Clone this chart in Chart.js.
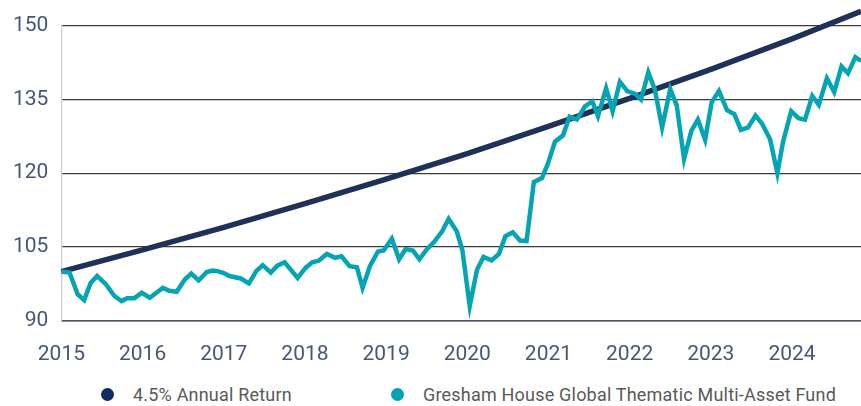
<!DOCTYPE html>
<html>
<head>
<meta charset="utf-8">
<script src="https://cdn.jsdelivr.net/npm/chart.js@4.4.1/dist/chart.umd.min.js"></script>
<style>
    html, body { margin: 0; padding: 0; background: #fff; }
    #wrap { width: 861px; height: 380px; position: relative; }
    #legend { position: relative; width: 861px; height: 26px; font-family: Roboto, sans-serif; font-size: 18px; color: #595959; }
    .item { position: absolute; top: 4px; display: flex; align-items: center; letter-spacing: 0.2px; }
    .dot { width: 13px; height: 13px; border-radius: 50%; margin-right: 19px; }
</style>
</head>
<body>
<div id="wrap"><canvas id="chart"></canvas></div>
<div id="legend"></div>
<script>
// 4.5% annual return, read at each January (plus the right edge)
const trendYears = [2015, 2016, 2017, 2018, 2019, 2020, 2021, 2022, 2023, 2024, 2024.85];
const trendValues = [100, 104.4, 109.0, 113.8, 118.8, 124.0, 129.5, 135.2, 141.1, 147.3, 152.9];

// fund (decimal years)
const fundDates = [
    2015.00, 2015.10, 2015.20, 2015.28, 2015.36, 2015.44, 2015.55, 2015.65, 2015.74, 2015.81,
    2015.90, 2015.99, 2016.09, 2016.17, 2016.25, 2016.33, 2016.42, 2016.52, 2016.60, 2016.69,
    2016.79, 2016.86, 2016.92, 2017.00, 2017.07, 2017.21, 2017.31, 2017.40, 2017.48, 2017.58,
    2017.66, 2017.75, 2017.84, 2017.91, 2018.01, 2018.09, 2018.17, 2018.27, 2018.37, 2018.45,
    2018.55, 2018.64, 2018.71, 2018.80, 2018.90, 2018.97, 2019.07, 2019.16, 2019.24, 2019.33,
    2019.41, 2019.50, 2019.59, 2019.69, 2019.77, 2019.87, 2019.94, 2020.03, 2020.12, 2020.20,
    2020.30, 2020.39, 2020.47, 2020.56, 2020.65, 2020.73, 2020.82, 2020.92, 2020.99, 2021.08,
    2021.18, 2021.26, 2021.35, 2021.45, 2021.54, 2021.61, 2021.71, 2021.79, 2021.88, 2021.97,
    2022.07, 2022.14, 2022.23, 2022.31, 2022.40, 2022.50, 2022.58, 2022.67, 2022.76, 2022.84,
    2022.93, 2023.01, 2023.10, 2023.20, 2023.29, 2023.37, 2023.46, 2023.55, 2023.63, 2023.73,
    2023.82, 2023.89, 2023.99, 2024.08, 2024.16, 2024.25, 2024.33, 2024.43, 2024.52, 2024.61,
    2024.69, 2024.78, 2024.85
];
const fundValues = [
    100.0, 99.8, 95.4, 94.2, 97.7, 99.1, 97.4, 95.1, 94.0, 94.6,
    94.6, 95.7, 94.7, 95.7, 96.7, 96.1, 95.9, 98.4, 99.6, 98.2,
    99.9, 100.2, 100.1, 99.7, 99.1, 98.6, 97.6, 100.1, 101.3, 99.8,
    101.2, 101.9, 100.1, 98.7, 100.8, 101.9, 102.2, 103.6, 102.8, 103.1,
    101.1, 100.9, 96.7, 101.1, 104.1, 104.3, 106.7, 102.5, 104.6, 104.3,
    102.5, 104.5, 106.0, 108.2, 110.7, 108.2, 104.3, 93.0, 100.4, 103.0,
    102.3, 103.6, 107.2, 108.0, 106.3, 106.2, 118.2, 119.0, 121.8, 126.4,
    127.7, 131.5, 130.9, 133.6, 134.6, 131.6, 137.3, 132.6, 138.6, 136.7,
    136.1, 135.0, 140.5, 137.0, 129.3, 137.1, 133.8, 122.9, 128.6, 130.9,
    126.8, 134.4, 136.7, 132.8, 132.0, 128.8, 129.3, 131.7, 130.1, 126.9,
    120.0, 126.4, 132.6, 131.2, 130.9, 135.7, 133.9, 139.3, 136.5, 141.7,
    140.3, 143.6, 142.8
];

const yTicks = [90, 105, 120, 135, 150];

const navy = "#1d3159";
const teal = "#05a4b5";
const tickColor = "#46567a";

const ctx = document.getElementById("chart").getContext("2d");

const chart = new Chart(ctx, {
    type: "line",
    data: {
        datasets: [
            {
                label: "4.5% Annual Return",
                data: trendYears.map((y, i) => ({ x: y, y: trendValues[i] })),
                borderColor: navy,
                backgroundColor: "#0f2d5e",
                borderWidth: 5.5,
                pointRadius: 0,
                tension: 0,
                clip: false,
                order: 1
            },
            {
                label: "Gresham House Global Thematic Multi-Asset Fund",
                data: fundDates.map((d, i) => ({ x: d, y: fundValues[i] })),
                borderColor: teal,
                backgroundColor: "#00a3b3",
                borderWidth: 4.5,
                pointRadius: 0,
                tension: 0,
                order: 0
            }
        ]
    },
    options: {
        responsive: true,
        maintainAspectRatio: false,
        animation: false,
        layout: { padding: { top: 4, right: 0, left: 0, bottom: 0 } },
        plugins: {
            legend: { display: false },
            tooltip: { enabled: false }
        },
        scales: {
            x: {
                type: "linear",
                min: 2015,
                max: 2024.85,
                grid: { display: false },
                border: { display: true, color: "#4a5266", width: 1.5 },
                ticks: {
                    stepSize: 1,
                    includeBounds: false,
                    color: tickColor,
                    font: { family: "Roboto", size: 21 },
                    padding: 13,
                    maxRotation: 0,
                    callback: v => String(v)
                }
            },
            y: {
                min: yTicks[0],
                max: yTicks[yTicks.length - 1],
                afterBuildTicks: axis => { axis.ticks = yTicks.map(v => ({ value: v })); },
                grid: { color: "#3a3a3a", lineWidth: 1.3, drawTicks: false },
                border: { display: true, color: "#c9ced6", width: 1.2 },
                ticks: {
                    color: tickColor,
                    font: { family: "Roboto", size: 21 },
                    padding: 13
                }
            }
        }
    }
});

// legend as plain text under the chart
const legend = document.getElementById("legend");
const legendLeft = [101, 391];
const legendOrder = [0, 1];
legendOrder.forEach((idx, k) => {
    const ds = chart.data.datasets[idx];
    const item = document.createElement("div");
    item.className = "item";
    item.style.left = legendLeft[k] + "px";
    item.innerHTML = `<span class="dot" style="background:${ds.backgroundColor}"></span><span>${ds.label}</span>`;
    legend.appendChild(item);
});
</script>
</body>
</html>
